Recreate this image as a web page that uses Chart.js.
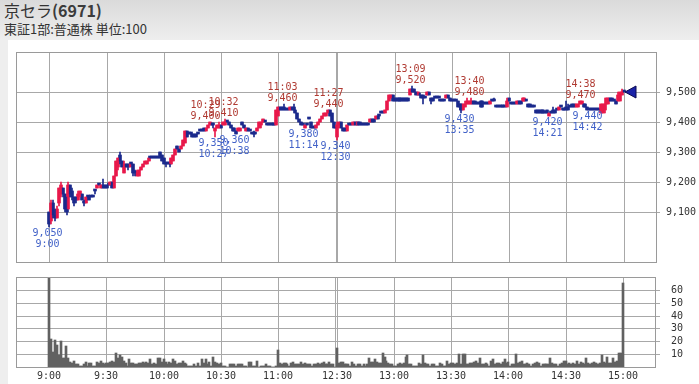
<!DOCTYPE html>
<html lang="ja">
<head>
<meta charset="utf-8">
<script src="https://cdn.jsdelivr.net/npm/chart.js@4.4.1/dist/chart.umd.min.js"></script>
<style>
  html, body { margin: 0; padding: 0; }
  body {
    width: 699px; height: 384px; overflow: hidden; position: relative;
    background: linear-gradient(#dadada, #eeeeee 40px, #eeeeee);
    font-family: 'Noto Sans CJK JP', sans-serif; color: #333;
  }
  #title { position: absolute; left: 4px; top: 0px; font-size: 16px; line-height: 20px; }
  #title b { font-weight: bold; color: #3b3b3b; }
  #sub { position: absolute; left: 4px; top: 20px; font-size: 13px; line-height: 17px; }
  #panel { position: absolute; left: 8px; top: 40px; right: 0; bottom: 0; background: #fff; }
  canvas { position: absolute; left: 0; top: 0; }
</style>
</head>
<body>
<div id="title">京セラ<b>(6971)</b></div>
<div id="sub">東証1部:普通株 単位:100</div>
<div id="panel"></div>
<canvas id="price" width="699" height="384"></canvas>
<canvas id="vol" width="699" height="384"></canvas>
<script>
'use strict';

// 1分足 (0 = 9:00 ... 150 = 11:30, 151 = 12:30 ... 301 = 15:00)
const opens = [
  9100,9070,9130,9090,9080,9130,9160,9180,9160,9150,
  9110,9190,9170,9150,9150,9140,9160,9160,9130,9130,
  9150,9150,9150,9150,9170,9180,9190,9180,9190,9190,
  9190,9190,9190,9200,9180,9220,9250,9290,9270,9230,
  9260,9260,9250,9260,9260,9230,9220,9220,9240,9250,
  9260,9260,9270,9280,9280,9280,9280,9280,9300,9290,
  9280,9260,9260,9260,9260,9270,9290,9320,9310,9310,
  9320,9330,9370,9360,9360,9360,9360,9360,9360,9370,
  9370,9380,9370,9380,9390,9390,9390,9370,9380,9380,
  9390,9390,9390,9400,9400,9390,9380,9380,9370,9370,
  9370,9400,9390,9370,9380,9370,9360,9360,9360,9370,
  9380,9390,9400,9400,9390,9390,9390,9390,9390,9390,
  9420,9450,9450,9450,9440,9440,9440,9450,9450,9440,
  9430,9410,9400,9390,9380,9390,9410,9400,9380,9380,
  9380,9390,9400,9410,9420,9420,9430,9440,9430,9400,
  9380,
  9350,9390,9400,9380,9380,9370,9390,9390,9390,9400,
  9390,9400,9400,9390,9390,9390,9390,9400,9410,9410,
  9410,9420,9420,9430,9430,9430,9440,9470,9480,9490,
  9480,9480,9480,9480,9480,9480,9480,9480,9490,9510,
  9510,9500,9490,9490,9490,9490,9480,9490,9500,9480,
  9480,9480,9480,9480,9470,9470,9470,9480,9490,9480,
  9470,9470,9470,9470,9460,9460,9440,9450,9460,9460,
  9460,9470,9470,9460,9460,9470,9470,9460,9460,9460,
  9460,9470,9470,9450,9450,9450,9450,9450,9450,9450,
  9480,9460,9460,9460,9460,9470,9470,9470,9470,9470,
  9460,9460,9450,9450,9440,9440,9440,9440,9440,9430,
  9440,9420,9430,9440,9440,9440,9440,9450,9440,9440,
  9450,9450,9450,9460,9460,9450,9450,9460,9460,9460,
  9460,9450,9440,9440,9440,9440,9440,9440,9430,9430,
  9440,9460,9460,9480,9480,9470,9470,9470,9470,9490,9500
];
const highs = [
  9100,9140,9140,9110,9120,9180,9200,9180,9160,9150,
  9200,9190,9180,9150,9150,9170,9170,9160,9140,9150,
  9150,9150,9150,9150,9170,9190,9190,9190,9210,9190,
  9190,9190,9200,9200,9220,9270,9280,9300,9270,9270,
  9260,9260,9260,9260,9260,9240,9240,9240,9250,9260,
  9270,9270,9280,9280,9280,9280,9280,9280,9300,9290,
  9280,9260,9260,9260,9280,9290,9310,9320,9310,9320,
  9340,9370,9370,9360,9360,9360,9360,9360,9360,9370,
  9370,9380,9380,9390,9400,9390,9390,9380,9390,9400,
  9390,9400,9410,9400,9400,9390,9380,9380,9370,9380,
  9380,9400,9390,9380,9380,9370,9360,9370,9360,9380,
  9400,9400,9410,9400,9390,9390,9390,9390,9390,9440,
  9450,9450,9450,9460,9440,9440,9450,9450,9460,9440,
  9430,9410,9400,9390,9390,9390,9410,9400,9380,9380,
  9390,9400,9410,9420,9430,9430,9440,9440,9430,9400,
  9380,
  9400,9400,9400,9380,9380,9390,9390,9390,9400,9400,
  9400,9400,9400,9390,9390,9390,9390,9410,9410,9410,
  9420,9420,9420,9430,9430,9440,9470,9490,9490,9490,
  9480,9480,9480,9480,9480,9480,9480,9480,9510,9520,
  9510,9500,9500,9490,9490,9490,9480,9500,9500,9480,
  9480,9480,9480,9480,9470,9470,9470,9490,9490,9480,
  9470,9470,9470,9470,9460,9460,9460,9470,9480,9470,
  9480,9470,9470,9460,9460,9470,9470,9460,9460,9460,
  9470,9470,9480,9450,9450,9450,9450,9450,9450,9480,
  9480,9460,9460,9460,9470,9470,9470,9480,9480,9470,
  9460,9460,9450,9450,9440,9440,9440,9440,9440,9430,
  9440,9430,9430,9450,9440,9440,9450,9450,9440,9440,
  9470,9460,9450,9460,9460,9460,9460,9470,9470,9460,
  9460,9450,9440,9440,9440,9440,9440,9440,9460,9460,
  9460,9480,9480,9480,9480,9470,9470,9500,9500,9510,9500
];
const lows = [
  9050,9060,9080,9070,9080,9120,9150,9150,9100,9090,
  9110,9150,9140,9120,9130,9140,9150,9140,9120,9130,
  9150,9140,9150,9150,9160,9180,9190,9180,9180,9180,
  9180,9190,9190,9180,9180,9220,9240,9260,9250,9230,
  9250,9240,9250,9260,9220,9220,9220,9220,9240,9250,
  9260,9260,9270,9280,9280,9280,9280,9280,9280,9270,
  9260,9250,9260,9250,9260,9270,9290,9310,9300,9310,
  9320,9330,9350,9360,9360,9350,9350,9350,9360,9370,
  9370,9370,9370,9380,9390,9390,9380,9350,9380,9380,
  9380,9390,9390,9400,9390,9380,9370,9370,9360,9370,
  9370,9390,9380,9370,9370,9370,9360,9350,9360,9370,
  9380,9380,9400,9400,9390,9390,9390,9390,9390,9390,
  9420,9440,9440,9440,9440,9440,9440,9440,9440,9430,
  9410,9400,9390,9390,9380,9390,9410,9380,9380,9380,
  9380,9390,9400,9410,9420,9420,9430,9420,9400,9380,
  9380,
  9340,9380,9380,9370,9370,9370,9390,9390,9390,9390,
  9390,9390,9390,9390,9390,9390,9390,9400,9400,9400,
  9410,9410,9420,9430,9430,9430,9440,9470,9480,9470,
  9470,9470,9470,9470,9470,9470,9470,9470,9490,9500,
  9500,9490,9490,9490,9480,9460,9480,9490,9490,9460,
  9470,9480,9480,9480,9470,9470,9470,9480,9480,9470,
  9470,9470,9470,9450,9440,9430,9440,9450,9460,9460,
  9460,9460,9460,9460,9460,9450,9450,9460,9460,9460,
  9460,9470,9470,9450,9450,9450,9450,9450,9450,9450,
  9470,9460,9460,9460,9460,9460,9460,9470,9470,9470,
  9450,9450,9450,9450,9430,9430,9430,9430,9430,9430,
  9430,9420,9430,9430,9430,9440,9440,9450,9440,9440,
  9440,9440,9450,9450,9450,9450,9450,9460,9460,9450,
  9450,9440,9440,9440,9440,9440,9440,9440,9430,9430,
  9430,9460,9460,9470,9470,9470,9460,9470,9470,9490,9500
];
const closes = [
  9060,9130,9090,9080,9110,9180,9190,9160,9110,9100,
  9190,9160,9150,9130,9140,9160,9170,9140,9130,9150,
  9150,9140,9150,9150,9170,9190,9190,9190,9180,9180,
  9180,9190,9200,9180,9220,9270,9280,9270,9250,9260,
  9250,9250,9260,9260,9230,9230,9230,9240,9250,9260,
  9270,9270,9280,9280,9280,9280,9280,9280,9280,9270,
  9260,9260,9260,9260,9280,9290,9310,9310,9300,9320,
  9340,9370,9350,9360,9360,9350,9350,9350,9360,9370,
  9370,9370,9380,9390,9400,9390,9390,9380,9390,9390,
  9380,9400,9400,9400,9390,9380,9370,9370,9360,9380,
  9380,9390,9380,9380,9370,9370,9360,9360,9360,9380,
  9400,9400,9410,9400,9390,9390,9390,9390,9390,9440,
  9450,9440,9440,9440,9440,9440,9450,9440,9440,9430,
  9410,9400,9390,9390,9390,9390,9410,9380,9380,9380,
  9390,9400,9410,9420,9430,9430,9440,9420,9400,9380,
  9380,
  9390,9400,9380,9370,9370,9390,9390,9390,9400,9390,
  9400,9390,9390,9390,9390,9390,9390,9410,9400,9400,
  9420,9410,9420,9430,9430,9440,9470,9490,9490,9470,
  9470,9470,9470,9470,9470,9470,9470,9470,9510,9500,
  9500,9490,9500,9490,9480,9480,9480,9500,9490,9470,
  9470,9480,9480,9480,9470,9470,9470,9490,9480,9470,
  9470,9470,9470,9450,9450,9440,9460,9460,9470,9470,
  9470,9460,9460,9460,9460,9450,9450,9460,9460,9460,
  9470,9470,9470,9450,9450,9450,9450,9450,9450,9470,
  9470,9460,9460,9460,9470,9460,9460,9480,9480,9470,
  9450,9450,9450,9450,9430,9430,9430,9430,9430,9430,
  9430,9430,9430,9430,9430,9440,9450,9450,9440,9440,
  9440,9440,9450,9450,9450,9460,9460,9470,9470,9450,
  9450,9440,9440,9440,9440,9440,9440,9440,9460,9460,
  9460,9480,9480,9470,9470,9470,9460,9490,9500,9500,9500
];
// 出来高 (千株)
const volumes = [
  70,22,12,21,17,9,20,7,7,16,
  7,4,3,5,2,2,1,1,2,4,
  1,3,3,1,1,4,3,5,3,2,
  3,3,4,5,4,11,7,9,8,5,
  3,1,6,3,3,2,2,3,3,4,
  3,4,3,6,2,3,2,7,7,4,
  6,4,2,4,3,6,5,2,3,3,
  5,3,2,1,1,1,2,1,3,1,
  6,3,6,2,4,1,8,4,3,2,
  3,1,1,0,0,2,2,2,1,2,
  2,2,1,1,0,4,4,1,1,5,
  0,1,1,1,2,1,1,0,0,1,
  13,3,2,3,3,2,1,3,4,2,
  2,2,4,2,3,2,2,2,1,2,
  2,3,2,3,4,2,2,4,2,2,
  0,
  15,3,4,4,2,2,2,1,4,2,
  1,2,2,1,2,1,2,7,4,4,
  6,4,3,3,11,8,5,3,2,2,
  1,1,2,3,2,3,8,9,2,2,
  1,1,1,3,2,9,3,2,2,1,
  2,2,1,1,3,2,1,1,5,2,
  3,3,2,3,10,2,10,10,2,2,
  3,3,4,5,3,7,2,2,3,2,
  1,5,6,2,3,3,2,4,6,3,
  4,1,2,2,10,3,4,5,2,2,
  3,2,1,2,3,4,3,1,2,2,
  2,2,7,3,2,2,1,2,3,5,
  5,2,3,2,3,2,5,2,4,3,
  2,7,3,2,3,4,3,2,3,9,
  4,3,8,3,3,7,4,5,11,11,65
];

const tickIdx = [0, 30, 60, 90, 120, 150, 151, 181, 211, 241, 271, 301];
const tickText = ['9:00', '9:30', '10:00', '10:30', '11:00', '', '12:30', '13:00', '13:30', '14:00', '14:30', '15:00'];
const priceTicks = [9100, 9200, 9300, 9400, 9500];
const volTicks = [10, 20, 30, 40, 50, 60];

// 高値・安値の注記
const markTimes = ['9:00', '10:27', '10:29', '10:32', '10:38', '11:03', '11:14', '11:27', '12:30', '13:09', '13:35', '13:40', '14:21', '14:38', '14:42'];
const markPrices = [9050, 9350, 9400, 9410, 9360, 9460, 9380, 9440, 9340, 9520, 9430, 9480, 9420, 9470, 9440];
const markTypes = ['L', 'L', 'H', 'H', 'L', 'H', 'L', 'H', 'L', 'H', 'L', 'H', 'L', 'H', 'L'];
const markShift = { '10:29': -12 };

const UP = '#e8194b';
const DOWN = '#1b2a8c';
const GRID = '#a8a8a8';
const FRAME = '#9a9a9a';
const TEXT = '#333333';
const HI_TEXT = '#b03a32';
const LO_TEXT = '#4262c8';
const MONO = 'DejaVu Sans Mono';
const tickFont = { family: MONO, size: 10 };

const timeToIdx = t => {
    const [h, m] = t.split(':').map(Number);
    const mins = (h - 9) * 60 + m;
    return mins <= 150 ? mins : 151 + (mins - 210);
};

const candleColor = i => closes[i] > opens[i] ? UP : DOWN;

const framePlugin = {
    id: 'frame',
    afterDraw(chart) {
        const { ctx, chartArea: a } = chart;
        ctx.save();
        ctx.strokeStyle = FRAME;
        ctx.lineWidth = 1;
        ctx.strokeRect(a.left + 0.5, a.top + 0.5, a.right - a.left - 1, a.bottom - a.top);
        ctx.restore();
    }
};

const markPlugin = {
    id: 'marks',
    afterDatasetsDraw(chart) {
        const { ctx, scales: { x, y } } = chart;
        ctx.save();
        ctx.font = `10px ${MONO}`;
        ctx.textAlign = 'center';
        ctx.textBaseline = 'middle';
        markTimes.forEach((t, k) => {
            const px = x.getPixelForValue(timeToIdx(t)) - 1.5 + (markShift[t] || 0);
            const py = y.getPixelForValue(markPrices[k]);
            const p = markPrices[k].toLocaleString('en-US');
            if (markTypes[k] === 'H') {
                ctx.fillStyle = HI_TEXT;
                ctx.fillText(t, px, py - 16.5);
                ctx.fillText(p, px, py - 5.5);
            } else {
                ctx.fillStyle = LO_TEXT;
                ctx.fillText(p, px, py + 6.5);
                ctx.fillText(t, px, py + 17.5);
            }
        });
        // 現在値マーカー
        const last = closes.length - 1;
        const tx = x.getPixelForValue(last) + 1;
        const ty = y.getPixelForValue(closes[last]);
        ctx.beginPath();
        ctx.moveTo(tx, ty);
        ctx.lineTo(tx + 11, ty - 6);
        ctx.lineTo(tx + 11, ty + 6);
        ctx.closePath();
        ctx.fillStyle = '#1a22a8';
        ctx.fill();
        ctx.strokeStyle = '#0a0a50';
        ctx.stroke();
        ctx.restore();
    }
};

const xAxis = showLabels => ({
    type: 'linear',
    min: -17.5,
    max: 318.5,
    offset: false,
    alignToPixels: true,
    afterBuildTicks: s => { s.ticks = tickIdx.map(v => ({ value: v })); },
    afterFit: s => { s.height = showLabels ? 16 : 0; },
    grid: { color: GRID, drawTicks: false, offset: false },
    border: { display: false },
    ticks: {
        display: showLabels, autoSkip: false, maxRotation: 0, padding: 3,
        font: tickFont, color: TEXT,
        callback: (v, i) => tickText[i]
    }
});

const idx = opens.map((_, i) => i);

new Chart(document.getElementById('price'), {
    type: 'bar',
    data: {
        datasets: [
            {
                data: idx.map(i => ({ x: i, y: [lows[i], highs[i]] })),
                backgroundColor: idx.map(candleColor),
                barThickness: 1,
                grouped: false
            },
            {
                data: idx.map(i => ({ x: i, y: [opens[i], closes[i]] })),
                backgroundColor: idx.map(candleColor),
                barThickness: 3,
                minBarLength: 2,
                grouped: false
            }
        ]
    },
    options: {
        responsive: false,
        animation: false,
        events: [],
        layout: { padding: { left: 16, top: 52, right: 0, bottom: 122 } },
        plugins: { legend: { display: false }, tooltip: { enabled: false } },
        scales: {
            x: xAxis(false),
            y: {
                type: 'linear',
                position: 'right',
                min: 8933,
                max: 9633,
                alignToPixels: true,
                afterBuildTicks: s => { s.ticks = priceTicks.map(v => ({ value: v })); },
                afterFit: s => { s.width = 42; },
                grid: { color: GRID, tickLength: 3 },
                border: { display: false },
                ticks: { font: tickFont, color: TEXT, padding: 6, callback: v => v.toLocaleString('en-US') }
            }
        }
    },
    plugins: [framePlugin, markPlugin]
});

new Chart(document.getElementById('vol'), {
    type: 'bar',
    data: {
        datasets: [{
            data: idx.map(i => ({ x: i, y: volumes[i] })),
            backgroundColor: '#616161',
            barThickness: 2,
            grouped: false
        }]
    },
    options: {
        responsive: false,
        animation: false,
        events: [],
        layout: { padding: { left: 16, top: 277, right: 0, bottom: 0 } },
        plugins: { legend: { display: false }, tooltip: { enabled: false } },
        scales: {
            x: xAxis(true),
            y: {
                type: 'linear',
                position: 'right',
                min: 0,
                max: 70,
                alignToPixels: true,
                afterBuildTicks: s => { s.ticks = volTicks.map(v => ({ value: v })); },
                afterFit: s => { s.width = 43; },
                grid: { color: GRID, tickLength: 4 },
                border: { display: false },
                ticks: { font: tickFont, color: TEXT, padding: 11 }
            }
        }
    },
    plugins: [framePlugin]
});
</script>
</body>
</html>
